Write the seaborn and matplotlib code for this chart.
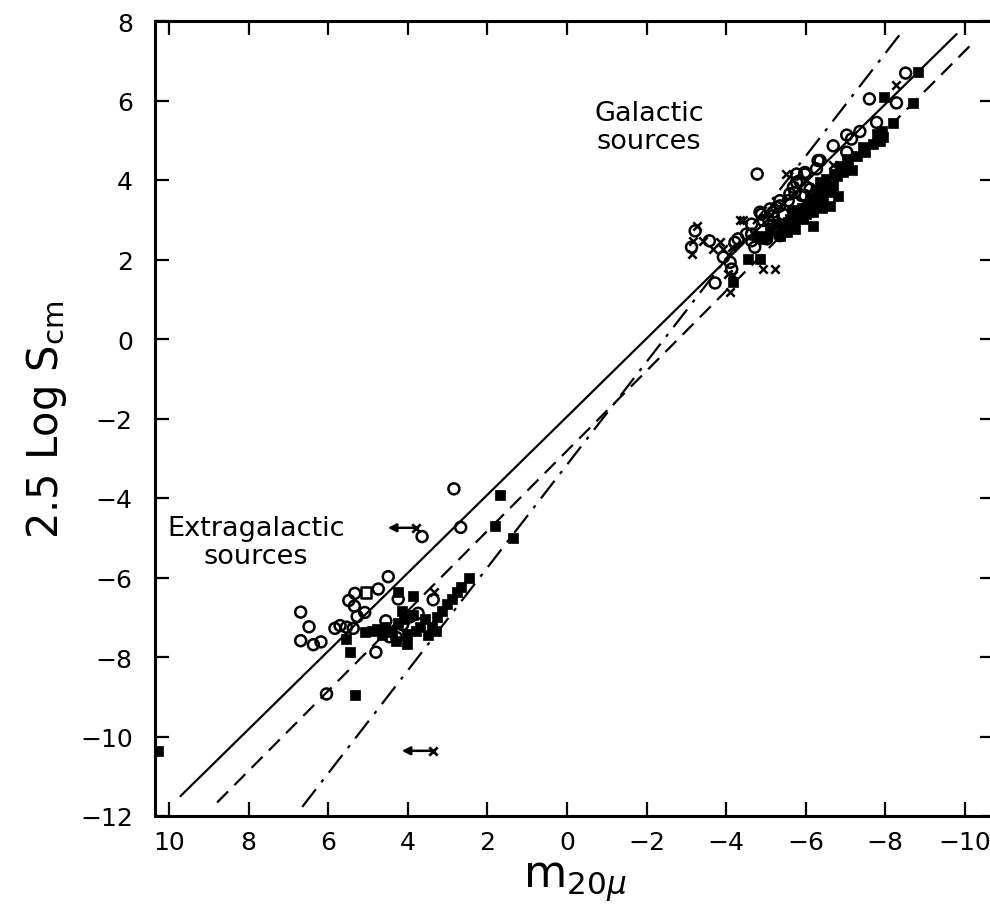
import matplotlib
matplotlib.use("Agg")
import matplotlib.pyplot as plt
import seaborn as sns

# open circles (x = m20mu, y = 2.5 log S_cm)
circle_x = [6.69, 6.48, 6.69, 6.37, 6.18, 5.83, 5.70, 5.54, 5.37, 5.48, 5.34, 5.27, 5.08, 5.33,
            4.74, 4.49, 4.80, 6.04, 4.24, 4.55, 4.46, 4.28, 4.13, 3.94, 3.74, 3.36, 2.84, 2.67, 3.64,
            -4.78, -3.22, -3.13, -3.58, -4.22, -4.30, -3.93, -4.10, -4.14, -3.72, -4.51, -4.64,
            -4.64, -4.85, -4.93, -5.06, -5.18, -5.10, -5.27, -5.35, -5.43, -5.60, -5.69, -5.77,
            -5.85, -5.98, -6.02, -5.90, -4.72, -5.02, -5.35, -6.36, -6.27, -5.98, -5.77, -6.11,
            -5.73, -5.98, -5.56, -5.35, -5.18, -4.89, -4.64, -6.69, -7.03, -7.03, -7.15, -7.36,
            -7.78, -7.60, -8.28, -8.51, -6.31]
circle_y = [-6.87, -7.24, -7.59, -7.69, -7.62, -7.28, -7.21, -7.25, -7.28, -6.58, -6.72, -6.98,
            -6.88, -6.40, -6.29, -5.98, -7.88, -8.93, -6.54, -7.09, -7.49, -7.51, -7.19, -6.99,
            -6.90, -6.56, -3.77, -4.74, -4.97,
            4.15, 2.72, 2.31, 2.47, 2.43, 2.52, 2.06, 1.93, 1.76, 1.41, 2.64, 2.64,
            2.89, 3.19, 2.98, 3.02, 3.10, 3.27, 3.31, 3.48, 3.14, 3.65, 3.82, 4.15,
            3.98, 4.15, 3.82, 3.61, 2.31, 2.52, 2.60, 4.49, 4.28, 4.19, 3.94, 3.77,
            3.69, 3.61, 3.48, 3.35, 3.19, 3.14, 2.47, 4.86, 4.70, 5.13, 5.03, 5.22,
            5.45, 6.04, 5.94, 6.69, 4.49]

# filled squares
square_x = [5.54, 5.45, 5.33, 5.08, 4.78, 4.57, 4.40, 4.25, 4.03, 4.02, 3.87, 4.15, 3.86, 4.24,
            3.69, 3.57, 3.40, 3.49, 3.27, 3.15, 3.02, 2.90, 2.77, 2.65, 2.46, 1.81, 1.68, 1.35,
            10.27, 4.90, 4.65, 4.30, 3.80, 3.30, 4.10,
            -4.56, -4.85, -4.18, -5.02, -5.35, -5.52, -5.73, -5.73, -5.94, -6.19, -6.02, -6.27,
            -6.44, -6.61, -6.69, -6.52, -6.78, -6.94, -6.86, -7.07, -6.19, -6.36, -5.60, -5.43,
            -5.81, -6.52, -7.44, -7.49, -7.70, -7.86, -7.95, -7.78, -7.91, -8.20, -8.70, -7.96,
            -8.83, -4.77, -4.93, -7.03, -5.10, -5.90, -6.10, -6.35, -6.60, -7.30, -7.15,
            -5.25, -5.55, -6.00, -6.40, -6.80, -5.65, -6.25, -6.70]
square_y = [-7.55, -7.88, -8.96, -7.37, -7.30, -7.25, -7.37, -7.14, -7.67, -7.42, -6.94, -6.84,
            -6.47, -6.37, -7.25, -7.04, -7.25, -7.45, -7.00, -6.84, -6.67, -6.54, -6.37, -6.23,
            -6.00, -4.70, -3.92, -5.01, -10.36, -7.35, -7.45, -7.60, -7.35, -7.35, -7.05,
            2.01, 2.01, 1.43, 2.60, 2.60, 2.68, 2.77, 3.02, 3.02, 3.19, 3.35, 3.44,
            3.52, 3.69, 3.86, 4.03, 4.11, 4.19, 4.36, 4.40, 2.85, 3.69, 3.02, 2.85,
            3.23, 3.82, 4.82, 4.70, 4.91, 4.99, 5.07, 5.16, 5.24, 5.43, 5.93, 6.08,
            6.71, 2.60, 2.52, 4.53, 2.75, 3.30, 3.55, 3.95, 3.35, 4.60, 4.25,
            2.90, 2.95, 3.15, 3.30, 3.60, 3.25, 3.75, 4.15]

# open square
open_square_x = [5.05]
open_square_y = [-6.38]

# crosses
cross_x = [-3.26, -3.17, -3.13, -3.42, -3.68, -3.84, -3.93, -4.14, -4.35, -4.42, -4.18, -4.05,
           -4.10, -4.93, -5.23, -5.50, -8.28, -6.69, 3.35]
cross_y = [2.85, 2.47, 2.14, 2.47, 2.26, 2.43, 2.26, 2.31, 2.99, 2.99, 1.61, 1.64,
           1.17, 1.76, 1.76, 4.15, 6.38, 4.38, -6.36]

# limits (x mark with arrow toward fainter magnitude)
limit_x = [3.78, 3.37]
limit_y = [-4.75, -10.36]
limit_to_x = [4.50, 4.15]

# fitted lines: end points
fit_names = ["solid", "dashed", "dashdot"]
fit_x0 = [9.71, 8.79, 6.65]
fit_y0 = [-11.50, -11.66, -11.77]
fit_x1 = [-9.79, -10.25, -8.41]
fit_y1 = [7.67, 7.50, 7.72]
fit_styles = ["-", (0, (7, 4)), (0, (10, 4, 1.5, 4))]

sns.set_style("ticks")
plt.rcParams["font.family"] = ["DejaVu Sans"]
plt.rcParams["text.color"] = "black"
plt.rcParams["axes.labelcolor"] = "black"
plt.rcParams["xtick.color"] = "black"
plt.rcParams["ytick.color"] = "black"
plt.rcParams["axes.edgecolor"] = "black"

fig = plt.figure(figsize=(9.9, 9.2), dpi=100)
ax = fig.add_axes([155 / 990, 103 / 920, 839 / 990, 795 / 920])

for i in range(len(fit_names)):
    ax.plot([fit_x0[i], fit_x1[i]], [fit_y0[i], fit_y1[i]], color="black",
            linewidth=1.6, linestyle=fit_styles[i])

sns.scatterplot(x=circle_x, y=circle_y, ax=ax, marker="o", s=62,
                facecolor="none", edgecolor="black", linewidth=1.8, zorder=3)
sns.scatterplot(x=square_x, y=square_y, ax=ax, marker="s", s=58,
                color="black", edgecolor="black", linewidth=0.5, zorder=3)
sns.scatterplot(x=open_square_x, y=open_square_y, ax=ax, marker="s", s=55,
                facecolor="none", edgecolor="black", linewidth=1.8, zorder=3)
sns.scatterplot(x=cross_x, y=cross_y, ax=ax, marker="x", s=36,
                color="black", linewidth=1.8, zorder=3)
sns.scatterplot(x=limit_x, y=limit_y, ax=ax, marker="x", s=36,
                color="black", linewidth=2.0, zorder=3)
for x0, y0, x1 in zip(limit_x, limit_y, limit_to_x):
    ax.annotate("", xy=(x1, y0), xytext=(x0, y0),
                arrowprops=dict(arrowstyle="-|>", color="black", lw=1.8,
                                mutation_scale=12, shrinkA=0, shrinkB=0))

ax.text(-2.06, 5.33, "Galactic\nsources", ha="center", va="center",
        fontsize=19.5, linespacing=1.1)
ax.text(7.81, -5.11, "Extragalactic\nsources", ha="center", va="center",
        fontsize=19.5, linespacing=1.1)

ax.set_xlim(10.35, -10.73)
ax.set_ylim(-12, 8)
ax.set_xticks(range(10, -11, -2))
ax.set_yticks(range(-12, 9, 2))
ax.set_xticklabels([str(v).replace("-", "\u2212") for v in range(10, -11, -2)])
ax.set_yticklabels([str(v).replace("-", "\u2212") for v in range(-12, 9, 2)])

ax.tick_params(direction="in", length=10, width=1.6, labelsize=18,
               top=True, right=True, bottom=True, left=True)
ax.tick_params(axis="x", pad=10)
ax.tick_params(axis="y", pad=16)
for side in ["left", "bottom", "top", "right"]:
    ax.spines[side].set_linewidth(2.2)
    ax.spines[side].set_visible(True)

ax.set_xlabel(r"m$_{20\mu}$", fontsize=32, labelpad=4)
ax.set_ylabel(r"2.5 Log S$_{\rm cm}$", fontsize=30, labelpad=8)

fig.savefig("out.png", dpi=100)
